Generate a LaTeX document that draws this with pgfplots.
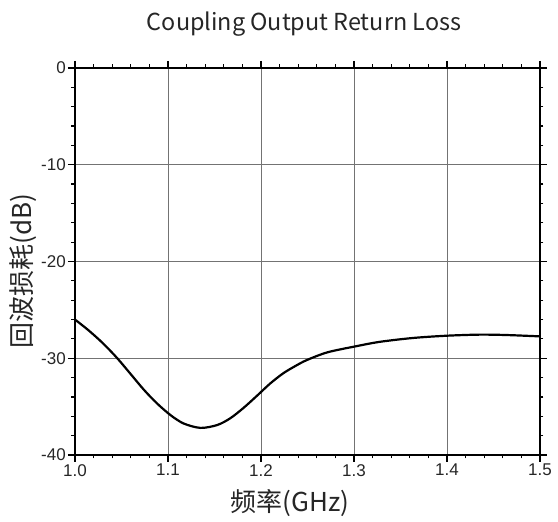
\documentclass[border=0pt]{standalone}
\usepackage{fontspec}
\usepackage{pgfplots}
\pgfplotsset{compat=1.18}
\newfontfamily\cjk{Noto Sans CJK SC}
\newfontfamily\arial{Liberation Sans}
\begin{document}
\begin{tikzpicture}
\useasboundingbox (-75pt,-67pt) rectangle (483pt,455pt);
\begin{axis}[
  at={(0pt,0pt)}, anchor=south west,
  scale only axis, width=465pt, height=387pt,
  xmin=1, xmax=1.5, ymin=-40, ymax=0,
  xtick={1,1.1,1.2,1.3,1.4,1.5},
  ytick={-40,-30,-20,-10,0},
  minor x tick num=4, minor y tick num=4,
  grid=major,
  major grid style={draw=black!55, line width=0.9pt},
  axis line style={line width=1.4pt, black},
  tick align=outside,
  major tick length=7pt, minor tick length=3.5pt,
  every tick/.style={black, line width=1.2pt},
  tick label style={font=\arial\fontsize{17}{17}\selectfont, text=black!85},
  xticklabel style={inner sep=2pt},
  yticklabel style={inner sep=2pt},
  /pgf/number format/assume math mode=true,
  xticklabel style={/pgf/number format/.cd, fixed, fixed zerofill, precision=1},
  yticklabel style={/pgf/number format/.cd, fixed, precision=0},
  xlabel={\cjk 频率(GHz)},
  ylabel={\cjk 回波损耗(dB)},
  label style={font=\fontsize{26}{26}\selectfont, text=black!85},
  xlabel style={at={(axis description cs:0.462,-0.124)}, anchor=center},
  ylabel style={at={(axis description cs:-0.111,0.475)}, anchor=center},
  clip=false,
]
\addplot[smooth, black, line width=2.2pt] coordinates {
(1.000,-26.0)
(1.015,-27.15)
(1.030,-28.45)
(1.045,-29.95)
(1.060,-31.65)
(1.074,-33.25)
(1.088,-34.65)
(1.103,-35.9)
(1.117,-36.75)
(1.135,-37.2)
(1.153,-36.9)
(1.167,-36.2)
(1.181,-35.15)
(1.196,-33.85)
(1.210,-32.6)
(1.224,-31.55)
(1.237,-30.8)
(1.249,-30.2)
(1.271,-29.4)
(1.300,-28.8)
(1.328,-28.3)
(1.364,-27.9)
(1.400,-27.67)
(1.435,-27.56)
(1.464,-27.6)
(1.500,-27.74)
};
\end{axis}
\node[font=\cjk\fontsize{23.4}{23.4}\selectfont, anchor=base, text=black!85] at (229pt,424pt) {Coupling Output Return Loss};
\end{tikzpicture}
\end{document}
